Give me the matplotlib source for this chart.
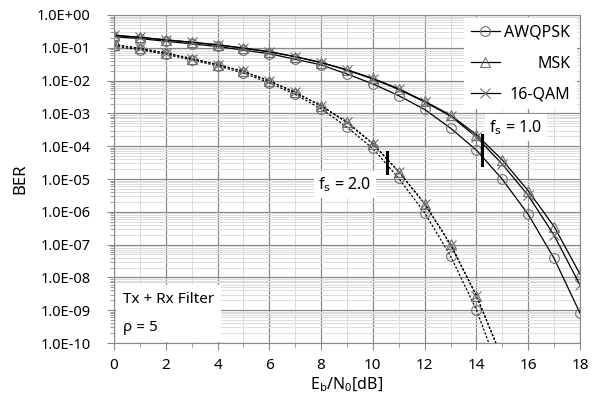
import numpy as np
import matplotlib
matplotlib.use("Agg")
import matplotlib.pyplot as plt
from matplotlib.ticker import FixedLocator, FuncFormatter, MultipleLocator

plt.rcParams['font.family'] = ['Noto Sans', 'DejaVu Sans']
plt.rcParams['mathtext.default'] = 'regular'

# --- data (log10 BER) ---
ebn0 = np.arange(0, 19)
# fs = 1.0 (solid)
awqpsk_fs1 = [-0.66, -0.72, -0.80, -0.88, -0.96, -1.07, -1.18, -1.35, -1.52, -1.80,
              -2.10, -2.46, -2.88, -3.45, -4.12, -5.01, -6.08, -7.42, -9.09]
msk_fs1 = [-0.62, -0.68, -0.76, -0.83, -0.91, -1.01, -1.12, -1.27, -1.45, -1.67,
           -1.93, -2.25, -2.63, -3.05, -3.65, -4.42, -5.36, -6.45, -7.90]
qam16_fs1 = [-0.62, -0.68, -0.76, -0.83, -0.91, -1.01, -1.12, -1.27, -1.45, -1.68,
             -1.95, -2.27, -2.65, -3.08, -3.72, -4.55, -5.50, -6.72, -8.23]
# fs = 2.0 (dotted), markers 0..14, line runs on to 15
ebn0_fs2 = np.arange(0, 16)
awqpsk_fs2 = [-0.95, -1.06, -1.20, -1.37, -1.55, -1.77, -2.07, -2.42, -2.86, -3.42,
              -4.07, -4.98, -6.03, -7.35, -8.99, -11.1]
msk_fs2 = [-0.90, -1.02, -1.16, -1.33, -1.51, -1.72, -2.01, -2.36, -2.77, -3.27,
           -3.92, -4.78, -5.75, -6.99, -8.56, -10.48]
qam16_fs2 = [-0.90, -1.02, -1.16, -1.33, -1.51, -1.72, -2.01, -2.36, -2.77, -3.27,
             -3.93, -4.78, -5.76, -7.00, -8.56, -10.48]

labels = ["AWQPSK", "MSK", "16-QAM"]
markers = ["o", "^", "x"]

fig = plt.figure(figsize=(5.94, 3.94), dpi=100)
ax = fig.add_axes([114/594, 1 - 343/394, (580-114)/594, (343-15)/394])

mk = dict(mfc="none", mec="#707070", mew=0.8, ms=7)
for y, lab, m in zip([awqpsk_fs1, msk_fs1, qam16_fs1], labels, markers):
    ax.plot(ebn0, 10.0 ** np.array(y), color="black", lw=0.9, marker=m, label=lab, **mk)
for y, m in zip([awqpsk_fs2, msk_fs2, qam16_fs2], markers):
    ax.plot(ebn0_fs2, 10.0 ** np.array(y), color="black", lw=0.9, ls=(0, (1.8, 1.4)),
            marker=m, markevery=list(range(15)), **mk)

# fs marker bars
ax.plot([14.2, 14.2], [10**-3.66, 10**-4.57], color="black", lw=2.2)
ax.plot([10.53, 10.53], [10**-4.17, 10**-4.81], color="black", lw=2.2)

ax.set_yscale("log")
ax.set_xlim(0, 18)
ax.set_ylim(1e-10, 1)
ax.xaxis.set_major_locator(MultipleLocator(2))
ax.xaxis.set_minor_locator(MultipleLocator(1))
ax.yaxis.set_major_locator(FixedLocator([10.0**k for k in range(-10, 1)]))
ax.yaxis.set_minor_locator(FixedLocator([m * 10.0**k for k in range(-10, 0) for m in range(2, 10)]))
ax.yaxis.set_major_formatter(FuncFormatter(lambda v, p: "1.0E%+03d" % round(np.log10(v))))
ax.yaxis.set_minor_formatter(FuncFormatter(lambda v, p: ""))

ax.grid(which="major", color="#8a8a8a", lw=0.9)
ax.grid(which="minor", color="#dcdcdc", lw=0.7)
ax.set_axisbelow(True)
for s in ax.spines.values():
    s.set_color("#8a8a8a")
ax.tick_params(which="major", direction="out", length=5, color="#8a8a8a", labelsize=10.5, pad=6)
ax.tick_params(which="minor", direction="out", length=3, color="#8a8a8a")
ax.tick_params(axis="y", pad=12)
ax.tick_params(axis="x", labelsize=11)

ax.set_xlabel("E$_\\mathrm{b}$/N$_0$[dB]", fontsize=11.5, labelpad=2)
ax.set_ylabel("BER", fontsize=12, labelpad=6)

leg = ax.legend(loc="upper right", fontsize=11.5, frameon=True, fancybox=False,
                edgecolor="none", facecolor="white", framealpha=1, handlelength=1.8,
                labelspacing=0.95, borderaxespad=0.2, handletextpad=0.3)
# right-align the legend labels
fig.canvas.draw()
renderer = fig.canvas.get_renderer()
widths = [t.get_window_extent(renderer).width for t in leg.get_texts()]
for t, w in zip(leg.get_texts(), widths):
    t.set_position((max(widths) - w, 0))

box = dict(facecolor="white", edgecolor="none", pad=3)
ax.text(15.52, 10**-3.445, "f$_\\mathrm{s}$ = 1.0", fontsize=11.5, ha="center", va="center", bbox=box)
ax.text(8.92, 10**-5.18, "f$_\\mathrm{s}$ = 2.0", fontsize=11.5, ha="center", va="center", bbox=box)
ax.text(0.35, 10**-9.1, "Tx + Rx Filter\n\u03c1 = 5", fontsize=11, ha="left", va="center",
        linespacing=2.2, bbox=dict(facecolor="white", edgecolor="none", pad=5))

fig.savefig("out.png", dpi=100)
